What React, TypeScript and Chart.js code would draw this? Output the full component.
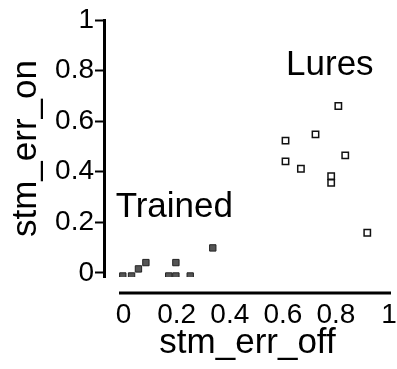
import React, { useEffect, useRef } from "react";
import { Chart, registerables } from "chart.js";

Chart.register(...registerables);

const TRAINED_X = [-0.003, 0.03, 0.056, 0.084, 0.17, 0.197, 0.197, 0.251, 0.336];
const TRAINED_Y = [-0.012, -0.012, 0.016, 0.041, -0.012, -0.012, 0.041, -0.012, 0.099];
const LURES_X = [0.809, 0.723, 0.61, 0.61, 0.668, 0.835, 0.782, 0.782, 0.918];
const LURES_Y = [0.66, 0.548, 0.523, 0.441, 0.412, 0.465, 0.383, 0.356, 0.159];

const X_TICKS = [0, 0.2, 0.4, 0.6, 0.8, 1];
const X_TICK_LABELS = ["0", "0.2", "0.4", "0.6", "0.8", "1"];
const Y_TICKS = [0, 0.2, 0.4, 0.6, 0.8, 1];
const Y_TICK_LABELS = ["0", "0.2", "0.4", "0.6", "0.8", "1"];

const ANNOTATION_TEXT = ["Trained", "Lures"];
const ANNOTATION_X = [-0.03, 0.612];
const ANNOTATION_Y = [0.221, 0.783];

const X_TITLE = "stm_err_off";
const Y_TITLE = "stm_err_on";

const FONT = "'Liberation Sans', Arial, sans-serif";

export default function App() {
  const ref = useRef<HTMLCanvasElement | null>(null);

  useEffect(() => {
    if (!ref.current) return;
    const annotate = {
      id: "annotate",
      afterDraw(chart: any) {
        const { ctx, chartArea } = chart;
        const xs = chart.scales.x;
        const ys = chart.scales.y;
        ctx.save();
        ctx.strokeStyle = "#000";
        ctx.lineWidth = 3;
        ctx.beginPath();
        const ly = chartArea.bottom + 16;
        ctx.moveTo(chartArea.left + 15, ly);
        ctx.lineTo(xs.right, ly);
        ctx.stroke();
        ctx.fillStyle = "#000";
        ctx.font = `35px ${FONT}`;
        ctx.textAlign = "left";
        ctx.textBaseline = "alphabetic";
        ANNOTATION_TEXT.forEach((t, i) => {
          ctx.fillText(t, xs.getPixelForValue(ANNOTATION_X[i]), ys.getPixelForValue(ANNOTATION_Y[i]));
        });
        ctx.restore();
      },
    };

    const chart = new Chart(ref.current, {
      type: "scatter",
      data: {
        datasets: [
          {
            label: "Trained",
            data: TRAINED_X.map((x, i) => ({ x, y: TRAINED_Y[i] })),
            pointStyle: "rect",
            pointRadius: 4.5,
            pointBackgroundColor: "#555555",
            pointBorderColor: "#222222",
            pointBorderWidth: 1,
          },
          {
            label: "Lures",
            data: LURES_X.map((x, i) => ({ x, y: LURES_Y[i] })),
            pointStyle: "rect",
            pointRadius: 4.5,
            pointBackgroundColor: "#ffffff",
            pointBorderColor: "#111111",
            pointBorderWidth: 1.5,
          },
        ],
      },
      options: {
        responsive: false,
        animation: false,
        devicePixelRatio: 1,
        layout: { padding: { top: 20, left: 0, right: 0, bottom: 0 } },
        plugins: { legend: { display: false }, tooltip: { enabled: false } },
        scales: {
          x: {
            type: "linear",
            min: -0.0738,
            max: 1.0074,
            afterBuildTicks: (s: any) => {
              s.ticks = X_TICKS.map((v) => ({ value: v }));
            },
            afterFit: (s: any) => {
              s.height = 92;
              s.paddingLeft = 0;
              s.paddingRight = 0;
            },
            grid: { display: true, drawOnChartArea: false, drawTicks: false },
            border: { display: false },
            ticks: {
              autoSkip: false,
              maxRotation: 0,
              minRotation: 0,
              padding: 21,
              color: "#000",
              font: { family: FONT, size: 28 },
              callback: (_v: any, i: number) => X_TICK_LABELS[i],
            },
            title: {
              display: true,
              text: X_TITLE,
              color: "#000",
              font: { family: FONT, size: 35 },
              padding: { top: 0, bottom: 5 },
            },
          },
          y: {
            type: "linear",
            min: -0.016,
            max: 1,
            afterBuildTicks: (s: any) => {
              s.ticks = Y_TICKS.map((v) => ({ value: v }));
            },
            afterFit: (s: any) => {
              s.width = 104;
              s.paddingTop = 0;
              s.paddingBottom = 0;
            },
            grid: {
              display: true,
              drawOnChartArea: false,
              drawTicks: true,
              tickLength: 9,
              tickWidth: 2,
              tickColor: "#000",
              color: "#000",
            },
            border: { display: true, color: "#000", width: 3 },
            ticks: {
              autoSkip: false,
              padding: 1,
              color: "#000",
              font: { family: FONT, size: 28 },
              callback: (_v: any, i: number) => Y_TICK_LABELS[i],
            },
            title: {
              display: true,
              text: Y_TITLE,
              color: "#000",
              font: { family: FONT, size: 35 },
              padding: { top: 5, bottom: 0 },
            },
          },
        },
      },
      plugins: [annotate],
    });
    return () => chart.destroy();
  }, []);

  return (
    <div style={{ position: "fixed", left: 0, top: 0, width: 397, height: 369, background: "#fff" }}>
      <canvas ref={ref} width={397} height={369} />
    </div>
  );
}
